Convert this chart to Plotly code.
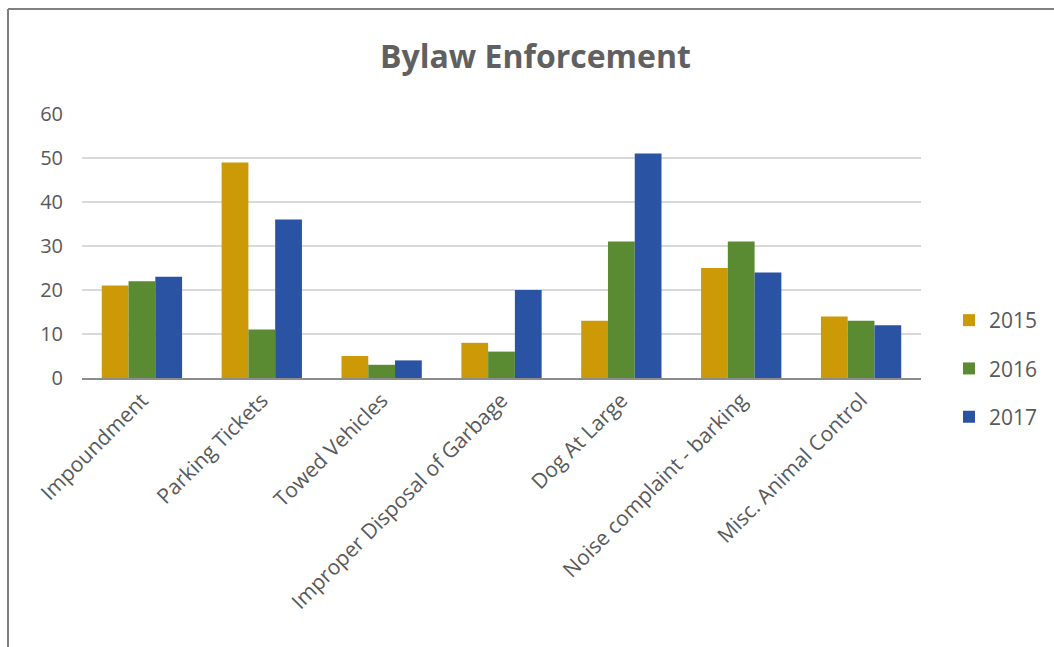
import plotly.graph_objects as go

categories = ["Impoundment", "Parking Tickets", "Towed Vehicles", "Improper Disposal of Garbage",
              "Dog At Large", "Noise complaint - barking", "Misc. Animal Control"]
v2015 = [21, 49, 5, 8, 13, 25, 14]
v2016 = [22, 11, 3, 6, 31, 31, 13]
v2017 = [23, 36, 4, 20, 51, 24, 12]
series_names = ["2015", "2016", "2017"]
colors = ["#CC9A06", "#5A8A32", "#2B53A3"]

W, H = 1054, 647
L, R, T, B = 82, 133, 114, 269

fig = go.Figure()
for name, vals, c in zip(series_names, [v2015, v2016, v2017], colors):
    fig.add_trace(go.Bar(x=categories, y=vals, name=name, marker_color=c,
                         marker_line_width=0, legendgroup=name))

pw = W - L - R
ph = H - T - B
def px2x(x):
    return (x - L) / pw
def px2y(y):
    return (H - B - y) / ph

fig.update_layout(
    width=W, height=H,
    margin=dict(l=L, r=R, t=T, b=B, autoexpand=False),
    paper_bgcolor="white", plot_bgcolor="white",
    barmode="group", bargap=0.33, bargroupgap=0,
    font=dict(family="Open Sans", color="#595959"),
    title=dict(text="<b>Bylaw Enforcement</b>", x=0.508, xanchor="center", y=1 - 57 / H, yanchor="middle",
               font=dict(size=32, color="#606060", family="Open Sans")),
    xaxis=dict(tickangle=-45, tickfont=dict(size=21, color="#595959"), showline=True,
               linecolor="#8C8C8C", linewidth=1.5, ticks="", showgrid=False, automargin=False),
    yaxis=dict(range=[0, 60], dtick=10, tickfont=dict(size=20, color="#595959"),
               gridcolor="#D9D9D9", gridwidth=1.5, zeroline=False, showline=False, ticks="",
               ticklabelstandoff=18, automargin=False),
    legend=dict(xref="container", yref="container", x=949 / W, y=1 - 300 / H,
                xanchor="left", yanchor="top",
                font=dict(size=21, color="#595959"), tracegroupgap=18,
                itemwidth=30, bgcolor="rgba(0,0,0,0)"),
    shapes=[
        dict(type="line", xref="paper", yref="paper", x0=px2x(8), x1=px2x(8), y0=px2y(9), y1=px2y(647),
             line=dict(color="#808080", width=2)),
        dict(type="line", xref="paper", yref="paper", x0=px2x(8), x1=px2x(1054), y0=px2y(9), y1=px2y(9),
             line=dict(color="#808080", width=2)),
    ],
)

fig.write_html("out.html")
